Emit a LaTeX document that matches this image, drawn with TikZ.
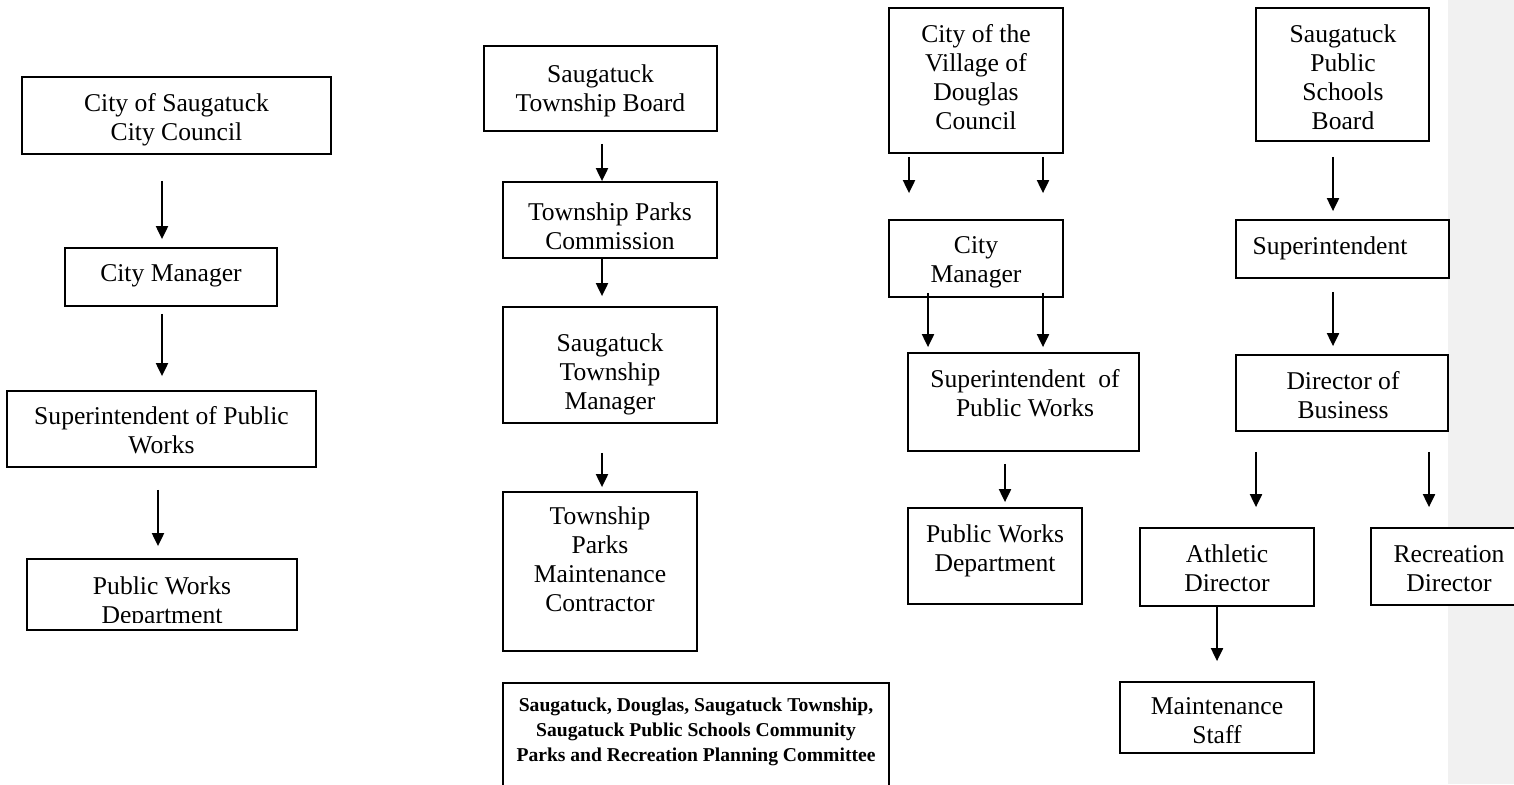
\documentclass[tikz,border=0pt]{standalone}
\usepackage{fontspec}
\setmainfont{Liberation Serif}
\usetikzlibrary{arrows.meta,calc,fit}
\definecolor{cmtgray}{HTML}{F1F1F1}
\begin{document}
\begin{tikzpicture}[x=0.5pt,y=-0.5pt,
  bx/.style={draw, line width=0.9pt, inner sep=0pt, fill=white},
  tx/.style={anchor=north, align=center, inner sep=0pt, font=\fontsize{12.8}{14.5}\selectfont},
  bt/.style={anchor=north, align=center, inner sep=0pt, font=\fontsize{9.8}{12.6}\selectfont\bfseries},
  arr/.style={line width=1pt, -{Triangle[width=6pt,length=6.5pt]}}]
\useasboundingbox (0,0) rectangle (1514,784);
\clip (0,0) rectangle (1514,784);
\fill[cmtgray] (1448,0) rectangle (1514,784);

% Column 1
\node[bx, fit={(22,77)(331,154)}] (b1) {};
\node[tx] (b1t) at (176.5,93) {City of Saugatuck\\City Council};
\node[bx, fit={(65,248)(277,306)}] (b2) {};
\node[tx] (b2t) at (171,264) {City Manager};
\node[bx, fit={(7,391)(316,467)}] (b3) {};
\node[tx] (b3t) at (161.5,406) {Superintendent of Public\\Works};
\node[bx, fit={(27,559)(297,630)}] (b4) {};
\begin{scope}
\clip (27,559) rectangle (297,622);
\node[tx] (b4t) at (162,576) {Public Works\\Department};
\end{scope}
\draw[arr] ($(b1.south)+(-14.5,26)$) -- ($(b2.north)+(-9,-8)$);
\draw[arr] ($(b2.south)+(-9,7)$) -- ($(b3.north)+(0.5,-14)$);
\draw[arr] ($(b3.south)+(-3.5,22)$) -- ($(b4.north)+(-4,-12)$);

% Column 2
\node[bx, fit={(484,46)(717,131)}] (c1) {};
\node[tx] (c1t) at (600.5,64) {Saugatuck\\Township Board};
\node[bx, fit={(503,182)(717,258)}] (c2) {};
\node[tx] (c2t) at (610,202) {Township Parks\\Commission};
\node[bx, fit={(503,307)(717,423)}] (c3) {};
\node[tx] (c3t) at (610,333) {Saugatuck\\Township\\Manager};
\node[bx, fit={(503,492)(697,651)}] (c4) {};
\node[tx] (c4t) at (600,506) {Township\\Parks\\Maintenance\\Contractor};
\draw[arr] ($(c1.south)+(1.5,12)$) -- ($(c2.north)+(-8,0)$);
\draw[arr] ($(c2.south)+(-8,0)$) -- ($(c3.north)+(-8,-10)$);
\draw[arr] ($(c3.south)+(-8,29)$) -- ($(c4.north)+(2,-4)$);

% Committee
\node[bx, fit={(503,683)(889,800)}] (cm) {};
\node[bt] (cmt) at (696,697) {Saugatuck, Douglas, Saugatuck Township,\\Saugatuck Public Schools Community\\Parks and Recreation Planning Committee};

% Column 3
\node[bx, fit={(889,8)(1063,153)}] (d1) {};
\node[tx] (d1t) at (976,24) {City of the\\Village of\\Douglas\\Council};
\node[bx, fit={(889,220)(1063,297)}] (d2) {};
\node[tx] (d2t) at (976,236) {City\\Manager};
\node[bx, fit={(908,353)(1139,451)}] (d3) {};
\node[tx] (d3t) at (1025,369) {Superintendent\ \ of\\Public Works};
\node[bx, fit={(908,508)(1082,604)}] (d4) {};
\node[tx] (d4t) at (995,524) {Public Works\\Department};
\draw[arr] ($(d1.south)+(-67,3)$) -- ($(d2.north)+(-67,-26)$);
\draw[arr] ($(d1.south)+(67,3)$) -- ($(d2.north)+(67,-26)$);
\draw[arr] ($(d2.south)+(-48,-5)$) -- ($(d3.north)+(-95.5,-5)$);
\draw[arr] ($(d2.south)+(67,-5)$) -- ($(d3.north)+(19.5,-5)$);
\draw[arr] ($(d3.south)+(-18.5,12)$) -- ($(d4.north)+(10,-5)$);

% Column 4
\node[bx, fit={(1256,8)(1429,141)}] (e1) {};
\node[tx] (e1t) at (1343,24) {Saugatuck\\Public\\Schools\\Board};
\node[bx, fit={(1236,220)(1449,278)}] (e2) {};
\node[tx] (e2t) at (1330,236) {Superintendent};
\node[bx, fit={(1236,355)(1448,431)}] (e3) {};
\node[tx] (e3t) at (1343,371) {Director of\\Business};
\node[bx, fit={(1140,528)(1314,606)}] (e4) {};
\node[tx] (e4t) at (1227,544) {Athletic\\Director};
\node[bx, fit={(1371,528)(1520,605)}] (e5) {};
\node[tx] (e5t) at (1449,545) {Recreation\\Director};
\node[bx, fit={(1120,682)(1314,753)}] (e6) {};
\node[tx] (e6t) at (1217,697) {Maintenance\\Staff};
\draw[arr] ($(e1.south)+(-9.5,15)$) -- ($(e2.north)+(-9.5,-8)$);
\draw[arr] ($(e2.south)+(-9.5,13)$) -- ($(e3.north)+(-9,-8)$);
\draw[arr] ($(e3.south)+(-86,20)$) -- ($(e4.north)+(29,-20)$);
\draw[arr] ($(e3.south)+(87,20)$) -- ($(e5.north)+(-16.5,-20)$);
\draw[arr] ($(e4.south)+(-10,0)$) -- ($(e6.north)+(0,-20)$);
\end{tikzpicture}
\end{document}
